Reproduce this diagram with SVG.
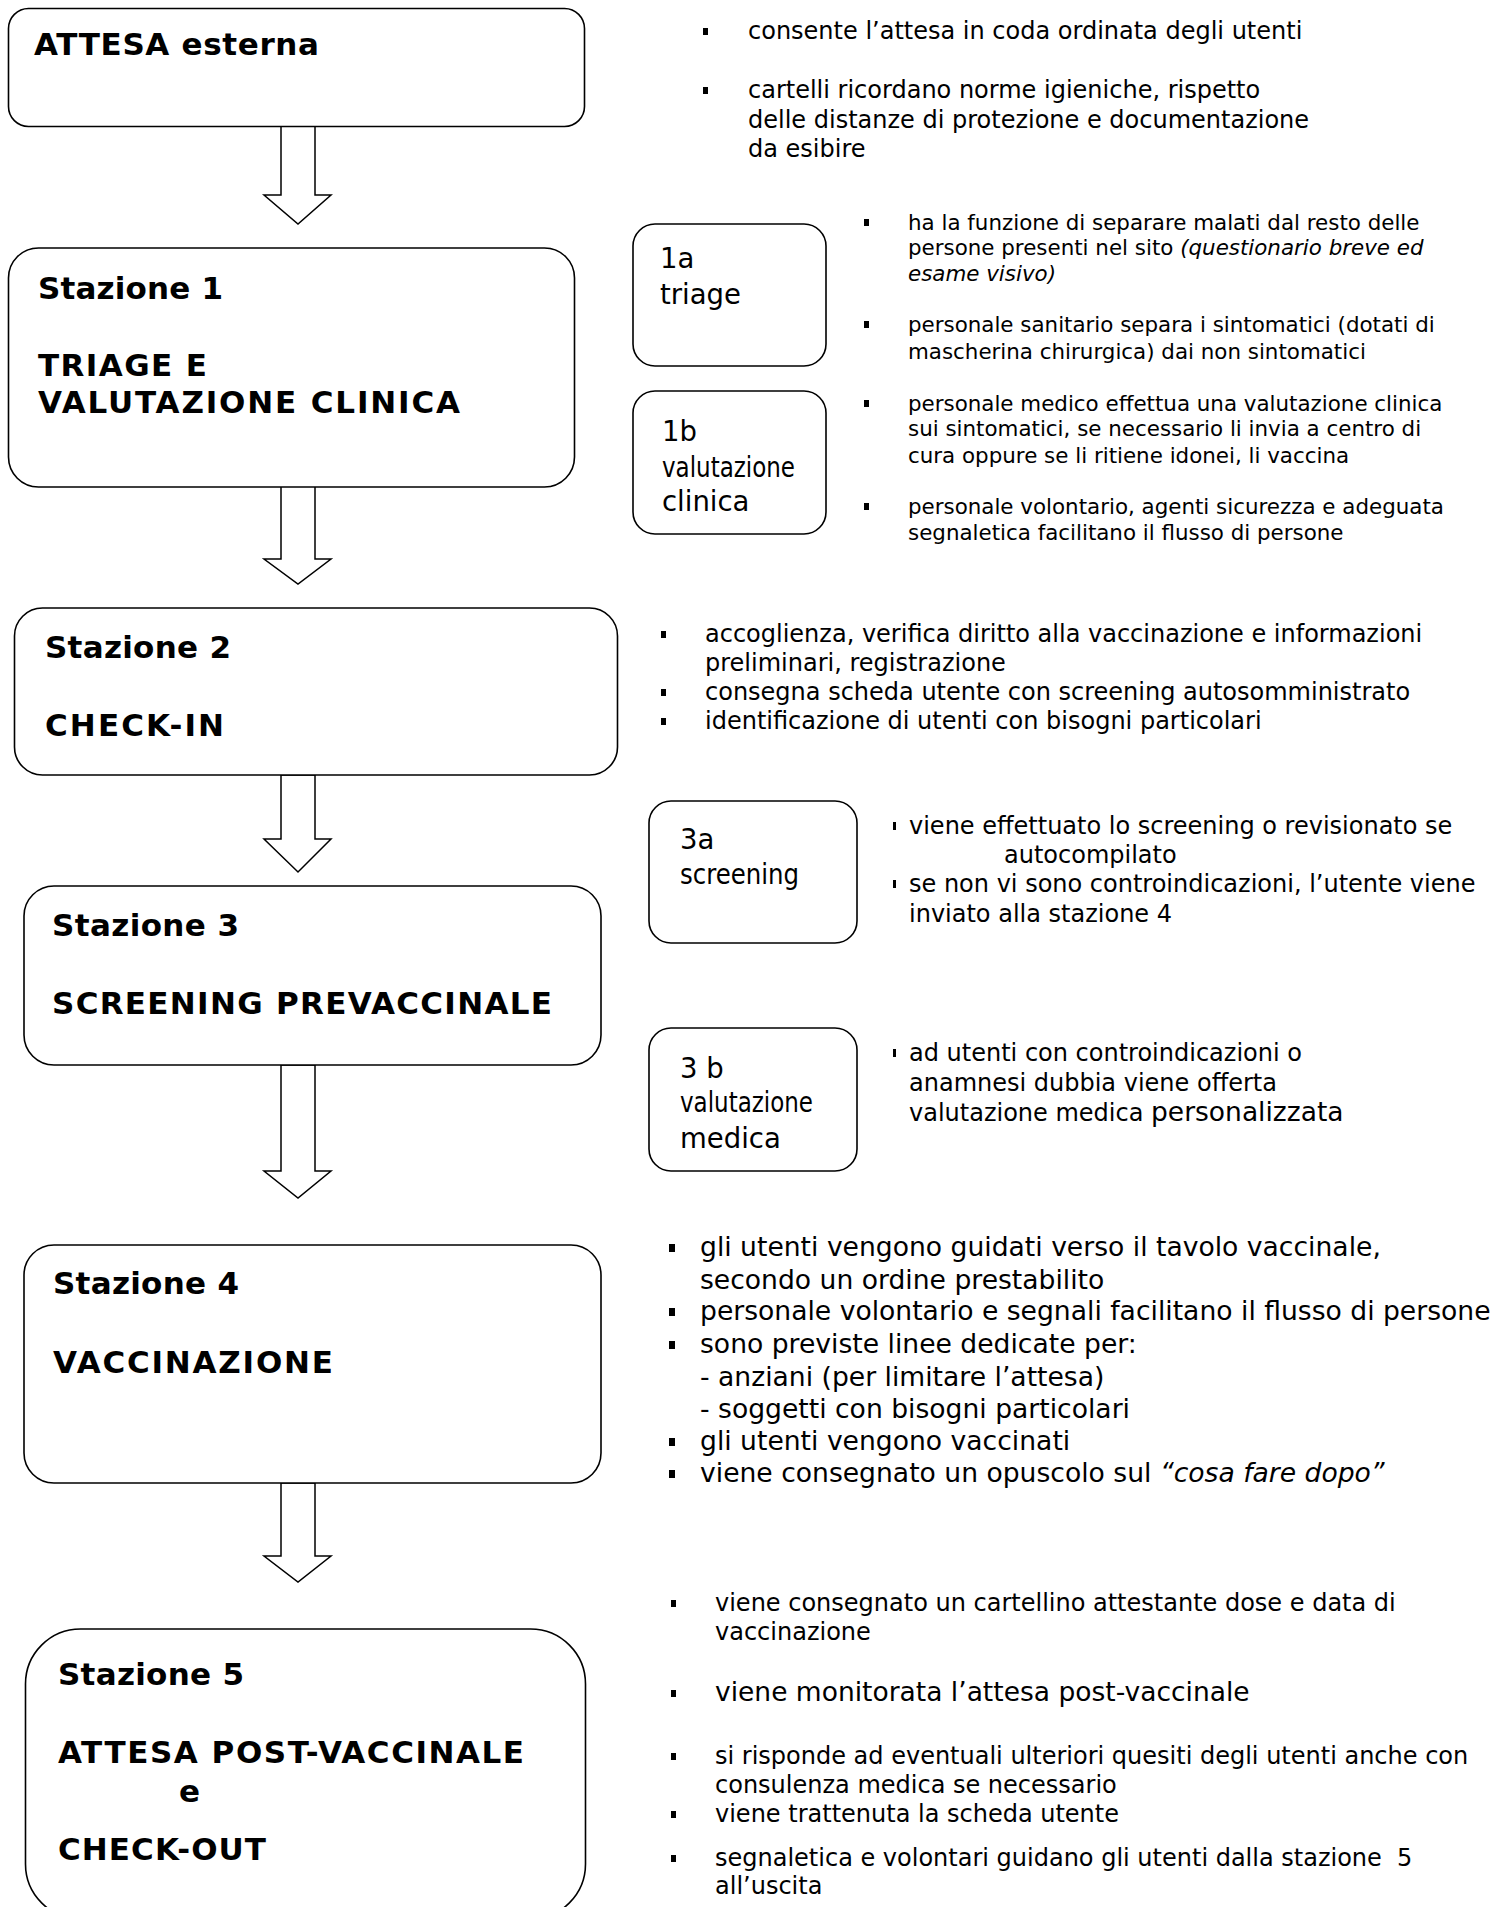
<svg xmlns="http://www.w3.org/2000/svg" width="1510" height="1907" viewBox="0 0 1510 1907">
<style>
.box{fill:#fff;stroke:#000;stroke-width:1.6}
.arr{fill:#fff;stroke:#000;stroke-width:1.5}
.h{font-family:"DejaVu Sans",Verdana,sans-serif;font-weight:bold;font-size:31px;fill:#000}
.s{font-family:"DejaVu Sans",Verdana,sans-serif;font-size:27.5px;fill:#000}
.t{font-family:"DejaVu Sans",Verdana,sans-serif;font-size:24px;fill:#000}
.t2{font-family:"DejaVu Sans",Verdana,sans-serif;font-size:21.4px;fill:#000}
.t4{font-family:"DejaVu Sans",Verdana,sans-serif;font-size:26.6px;fill:#000}
.big{font-size:26.5px}
.b{fill:#000}
</style>
<rect width="1510" height="1907" fill="#fff"/>

<g id="connectors">
<polygon class="arr" points="281,126 315,126 315,195 331,195 298,224 264,195 281,195"/>
<polygon class="arr" points="281,486 315,486 315,559 331,559 298,584 264,559 281,559"/>
<polygon class="arr" points="281,775 315,775 315,839 331,839 298,872 264,839 281,839"/>
<polygon class="arr" points="281,1065 315,1065 315,1171 331,1171 298,1198 264,1171 281,1171"/>
<polygon class="arr" points="281,1483 315,1483 315,1556 331,1556 298,1582 264,1556 281,1556"/>
</g>

<g id="attesa">
<rect class="box" x="8.5" y="8.5" width="576" height="118" rx="20"/>
<text class="h" x="34" y="55" textLength="285" lengthAdjust="spacing">ATTESA esterna</text>
</g>
<g id="attesa-note">
<rect class="b" x="703" y="28" width="5" height="7"/>
<text class="t" x="748" y="39">consente l’attesa in coda ordinata degli utenti</text>
<rect class="b" x="703" y="87" width="5" height="7"/>
<text class="t" x="748" y="98">cartelli ricordano norme igieniche, rispetto</text>
<text class="t" x="748" y="128">delle distanze di protezione e documentazione</text>
<text class="t" x="748" y="157">da esibire</text>
</g>

<g id="stazione1">
<rect class="box" x="8.5" y="248" width="566" height="239" rx="30"/>
<text class="h" x="38" y="299" textLength="185" lengthAdjust="spacing">Stazione 1</text>
<text class="h" x="38" y="376" textLength="169" lengthAdjust="spacing">TRIAGE E</text>
<text class="h" x="38" y="413" textLength="422" lengthAdjust="spacing">VALUTAZIONE CLINICA</text>
</g>
<g id="s1a">
<rect class="box" x="633" y="224" width="193" height="142" rx="22"/>
<text class="s" x="660" y="268">1a</text>
<text class="s" x="660" y="304">triage</text>
</g>
<g id="s1b">
<rect class="box" x="633" y="391" width="193" height="143" rx="22"/>
<text class="s" x="662" y="441">1b</text>
<text class="s" x="662" y="477" textLength="133" lengthAdjust="spacingAndGlyphs">valutazione</text>
<text class="s" x="662" y="511">clinica</text>
</g>
<g id="stazione1-note">
<rect class="b" x="864" y="219" width="5" height="7"/>
<text class="t2" x="908" y="230">ha la funzione di separare malati dal resto delle</text>
<text class="t2" x="908" y="255">persone presenti nel sito <tspan font-style="italic">(questionario breve ed</tspan></text>
<text class="t2" x="908" y="281" font-style="italic">esame visivo)</text>
<rect class="b" x="864" y="321" width="5" height="7"/>
<text class="t2" x="908" y="332">personale sanitario separa i sintomatici (dotati di</text>
<text class="t2" x="908" y="359">mascherina chirurgica) dai non sintomatici</text>
<rect class="b" x="864" y="400" width="5" height="7"/>
<text class="t2" x="908" y="411">personale medico effettua una valutazione clinica</text>
<text class="t2" x="908" y="436">sui sintomatici, se necessario li invia a centro di</text>
<text class="t2" x="908" y="463">cura oppure se li ritiene idonei, li vaccina</text>
<rect class="b" x="864" y="503" width="5" height="7"/>
<text class="t2" x="908" y="514">personale volontario, agenti sicurezza e adeguata</text>
<text class="t2" x="908" y="540">segnaletica facilitano il flusso di persone</text>
</g>

<g id="stazione2">
<rect class="box" x="14.5" y="608" width="603" height="167" rx="28"/>
<text class="h" x="45" y="658" textLength="186" lengthAdjust="spacing">Stazione 2</text>
<text class="h" x="45" y="736" textLength="179" lengthAdjust="spacing">CHECK-IN</text>
</g>
<g id="stazione2-note">
<rect class="b" x="661" y="631" width="5" height="7"/>
<text class="t" x="705" y="642">accoglienza, verifica diritto alla vaccinazione e informazioni</text>
<text class="t" x="705" y="671">preliminari, registrazione</text>
<rect class="b" x="661" y="689" width="5" height="7"/>
<text class="t" x="705" y="700">consegna scheda utente con screening autosomministrato</text>
<rect class="b" x="661" y="718" width="5" height="7"/>
<text class="t" x="705" y="729">identificazione di utenti con bisogni particolari</text>
</g>

<g id="stazione3">
<rect class="box" x="24" y="886" width="577" height="179" rx="30"/>
<text class="h" x="52" y="936" textLength="187" lengthAdjust="spacing">Stazione 3</text>
<text class="h" x="52" y="1014" textLength="500" lengthAdjust="spacing">SCREENING PREVACCINALE</text>
</g>
<g id="s3a">
<rect class="box" x="649" y="801" width="208" height="142" rx="22"/>
<text class="s" x="680" y="849">3a</text>
<text class="s" x="680" y="884" textLength="119" lengthAdjust="spacingAndGlyphs">screening</text>
</g>
<g id="s3b">
<rect class="box" x="649" y="1028" width="208" height="143" rx="22"/>
<text class="s" x="680" y="1078">3 b</text>
<text class="s" x="680" y="1112" textLength="133" lengthAdjust="spacingAndGlyphs">valutazione</text>
<text class="s" x="680" y="1148">medica</text>
</g>
<g id="stazione3-note">
<rect class="b" x="893" y="822" width="3" height="8"/>
<text class="t" x="909" y="834">viene effettuato lo screening o revisionato se</text>
<text class="t" x="1004" y="863">autocompilato</text>
<rect class="b" x="893" y="880" width="3" height="8"/>
<text class="t" x="909" y="892">se non vi sono controindicazioni, l’utente viene</text>
<text class="t" x="909" y="922">inviato alla stazione 4</text>
<rect class="b" x="893" y="1049" width="3" height="8"/>
<text class="t" x="909" y="1061">ad utenti con controindicazioni o</text>
<text class="t" x="909" y="1091">anamnesi dubbia viene offerta</text>
<text class="t" x="909" y="1121">valutazione medica <tspan class="big">personalizzata</tspan></text>
</g>

<g id="stazione4">
<rect class="box" x="24" y="1245" width="577" height="238" rx="30"/>
<text class="h" x="53" y="1294" textLength="186" lengthAdjust="spacing">Stazione 4</text>
<text class="h" x="53" y="1373" textLength="280" lengthAdjust="spacing">VACCINAZIONE</text>
</g>
<g id="stazione4-note">
<rect class="b" x="669" y="1244" width="6" height="8"/>
<text class="t4" x="700" y="1256">gli utenti vengono guidati verso il tavolo vaccinale,</text>
<text class="t4" x="700" y="1289">secondo un ordine prestabilito</text>
<rect class="b" x="669" y="1308" width="6" height="8"/>
<text class="t4" x="700" y="1320">personale volontario e segnali facilitano il flusso di persone</text>
<rect class="b" x="669" y="1341" width="6" height="8"/>
<text class="t4" x="700" y="1353">sono previste linee dedicate per:</text>
<text class="t4" x="700" y="1386">- anziani (per limitare l’attesa)</text>
<text class="t4" x="700" y="1418">- soggetti con bisogni particolari</text>
<rect class="b" x="669" y="1438" width="6" height="8"/>
<text class="t4" x="700" y="1450">gli utenti vengono vaccinati</text>
<rect class="b" x="669" y="1470" width="6" height="8"/>
<text class="t4" x="700" y="1482">viene consegnato un opuscolo sul <tspan font-style="italic">“cosa fare dopo”</tspan></text>
</g>

<g id="stazione5">
<rect class="box" x="25.5" y="1629" width="560" height="290" rx="55"/>
<text class="h" x="58" y="1685" textLength="186" lengthAdjust="spacing">Stazione 5</text>
<text class="h" x="58" y="1763" textLength="466" lengthAdjust="spacing">ATTESA POST-VACCINALE</text>
<text class="h" x="179" y="1802">e</text>
<text class="h" x="58" y="1860" textLength="208" lengthAdjust="spacing">CHECK-OUT</text>
</g>
<g id="stazione5-note">
<rect class="b" x="671" y="1600" width="5" height="7"/>
<text class="t" x="715" y="1611">viene consegnato un cartellino attestante dose e data di</text>
<text class="t" x="715" y="1640">vaccinazione</text>
<rect class="b" x="671" y="1690" width="5" height="7"/>
<text class="t big" x="715" y="1701">viene monitorata l’attesa post-vaccinale</text>
<rect class="b" x="671" y="1753" width="5" height="7"/>
<text class="t" x="715" y="1764">si risponde ad eventuali ulteriori quesiti degli utenti anche con</text>
<text class="t" x="715" y="1793">consulenza medica se necessario</text>
<rect class="b" x="671" y="1811" width="5" height="7"/>
<text class="t" x="715" y="1822">viene trattenuta la scheda utente</text>
<rect class="b" x="671" y="1855" width="5" height="7"/>
<text class="t" x="715" y="1866">segnaletica e volontari guidano gli utenti dalla stazione&#160; 5</text>
<text class="t" x="715" y="1894">all’uscita</text>
</g>
</svg>
